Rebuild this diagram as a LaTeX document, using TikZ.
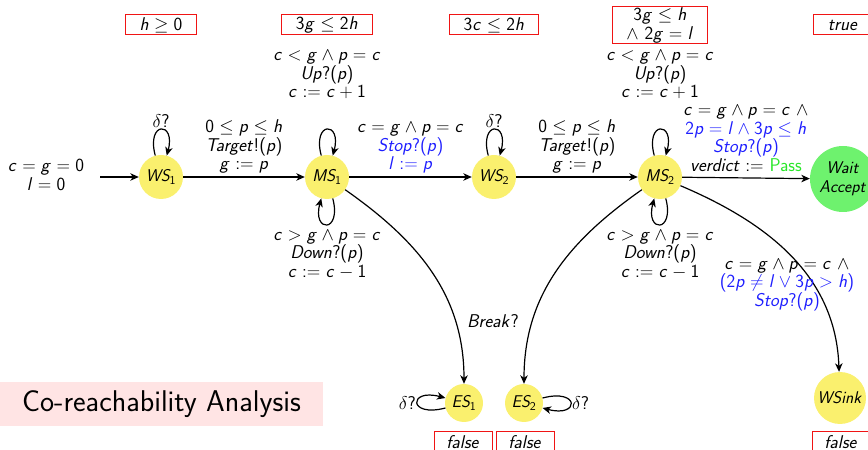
\RequirePackage{fix-cm}
\documentclass[tikz,border=0pt]{standalone}
\usepackage[no-math]{fontspec}
\usetikzlibrary{arrows.meta}
\DeclareSymbolFont{sfit}{OT1}{cmss}{m}{sl}
\SetSymbolFont{operators}{normal}{OT1}{cmss}{m}{n}
\makeatletter
\count@=`a
\loop\mathcode\count@=\numexpr"7000+\symsfit*"100+\count@\relax\ifnum\count@<`z\advance\count@\@ne\repeat
\count@=`A
\loop\mathcode\count@=\numexpr"7000+\symsfit*"100+\count@\relax\ifnum\count@<`Z\advance\count@\@ne\repeat
\makeatother
\definecolor{stY}{RGB}{250,240,110}
\definecolor{accG}{RGB}{110,242,110}
\definecolor{passG}{RGB}{40,230,40}
\definecolor{labB}{RGB}{30,30,255}
\definecolor{pinkbg}{RGB}{255,228,228}
\definecolor{invR}{RGB}{240,20,20}
\tikzset{
  st/.style={circle, fill=stY, inner sep=0pt, minimum size=44pt, font=\sffamily\fontsize{17}{18.5}\selectfont},
  inv/.style={draw=invR, line width=1pt, minimum height=20pt, inner sep=0.5pt},
  lab/.style={align=center, inner sep=1pt},
  arr/.style={line width=1.2pt, -{Stealth[length=8.5pt,width=7.5pt,inset=2.5pt]}},
}
\begin{document}
\begin{tikzpicture}[x=1pt,y=1pt,font=\sffamily\fontsize{18.5}{18.5}\selectfont]
\useasboundingbox (0,0) rectangle (868,450);
\clip (0,0) rectangle (868,450);
% states
\node[st] (ws1) at (161,273) {$WS_1$};
\node[st] (ms1) at (327,273) {$MS_1$};
\node[st] (ws2) at (494,273) {$WS_2$};
\node[st] (ms2) at (660,273) {$MS_2$};
\node[st, fill=accG, minimum size=66pt, align=center] (wa) at (843,271) {$Wait$\\$Accept$};
\node[st, minimum size=38pt] (es1) at (464,47) {$ES_1$};
\node[st, minimum size=38pt] (es2) at (524,47) {$ES_2$};
\node[st, minimum size=52pt] (wsink) at (840,52) {$WSink$};
% invariants
\node[inv, minimum width=71pt] (i1) at (161,425) {$h \ge 0$};
\node[inv, minimum width=91pt] (i2) at (327,425) {$3g \le 2h$};
\node[inv, minimum width=89pt] (i3) at (494,425) {$3c \le 2h$};
\node[inv, minimum width=95pt, minimum height=37pt, align=center] (i4) at (660,424.5) {$3g \le h$\\$\wedge\ 2g = l$};
\node[inv, minimum width=60pt] (i5) at (843,425) {$true$};
\node[inv, minimum width=58pt] (f1) at (463,8) {$false$};
\node[inv, minimum width=58pt] (f2) at (525,8) {$false$};
\node[inv, minimum width=58pt] (f3) at (841,8) {$false$};
% title
\node[fill=pinkbg, minimum width=323pt, minimum height=44pt, inner sep=0pt, font=\sffamily\fontsize{30}{36}\selectfont] (title) at (161.5,46) {Co-reachability Analysis};
% initial
\coordinate (init) at (100,273);
\node[lab] (initlab) at (46,275) {$c = g = 0$\\$l = 0$};
\draw[arr] (init) -- (ws1);
% straight transitions
\draw[arr] (ws1) -- node[lab, above=2pt] {$0 \le p \le h$\\$Target!(p)$\\$g := p$} (ms1);
\draw[arr] (ms1) -- node[lab, above=2pt] {$c = g \wedge p = c$\\\textcolor{labB}{$Stop?(p)$}\\\textcolor{labB}{$l := p$}} (ws2);
\draw[arr] (ws2) -- node[lab, above=2pt] {$0 \le p \le h$\\$Target!(p)$\\$g := p$} (ms2);
\draw[arr] (ms2) -- node[lab, above=5pt] {$c = g \wedge p = c\ \wedge$\\\textcolor{labB}{$2p = l \wedge 3p \le h$}\\\textcolor{labB}{$Stop?(p)$}\\$verdict :=$ \textcolor{passG}{Pass}} (wa);
% loops
\draw[arr] (ws1) to[loop, out=105, in=75, looseness=8] node[lab, above] {$\delta?$} (ws1);
\draw[arr] (ws2) to[loop, out=105, in=75, looseness=8] node[lab, above] {$\delta?$} (ws2);
\draw[arr] (ms1) to[loop, out=105, in=75, looseness=8] node[lab, above=29pt] {$c < g \wedge p = c$\\$Up?(p)$\\$c := c + 1$} (ms1);
\draw[arr] (ms2) to[loop, out=105, in=75, looseness=8] node[lab, above=29pt] {$c < g \wedge p = c$\\$Up?(p)$\\$c := c + 1$} (ms2);
\draw[arr] (ms1) to[loop, out=-75, in=-105, looseness=8] node[lab, below=4pt] {$c > g \wedge p = c$\\$Down?(p)$\\$c := c - 1$} (ms1);
\draw[arr] (ms2) to[loop, out=-75, in=-105, looseness=8] node[lab, below=4pt] {$c > g \wedge p = c$\\$Down?(p)$\\$c := c - 1$} (ms2);
\draw[arr] (es1) to[loop, out=195, in=165, looseness=10] node[lab, left] {$\delta?$} (es1);
\draw[arr] (es2) to[loop, out=15, in=-15, looseness=10] node[lab, right] {$\delta?$} (es2);
% curved transitions
\draw[arr] (ms1) to[out=-35, in=90] (es1);
\node[lab] (brk) at (493,129) {$Break?$};
\draw[arr] (ms2) to[out=215, in=90] (es2);
\draw[arr] (ms2) to[out=-23, in=92] (wsink);
\node[lab] (sinklab) at (787,165) {$c = g \wedge p = c\ \wedge$\\\textcolor{labB}{$(2p \neq l \vee 3p > h)$}\\\textcolor{labB}{$Stop?(p)$}};
\end{tikzpicture}
\end{document}
